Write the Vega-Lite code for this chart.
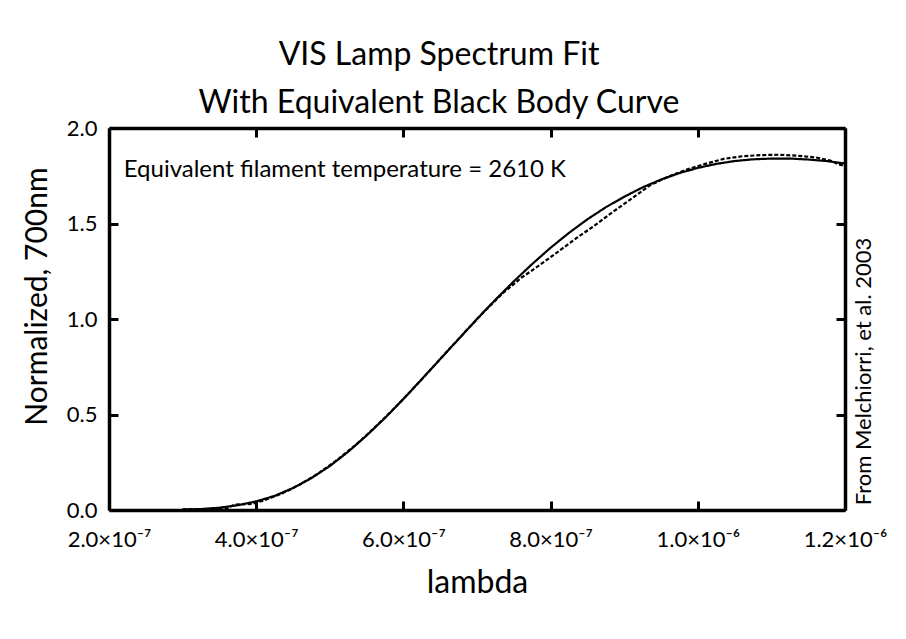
{
  "$schema": "https://vega.github.io/schema/vega-lite/v6.json",
  "width": 736,
  "height": 382,
  "autosize": "none",
  "padding": {"left": 109, "top": 128, "right": 61, "bottom": 129},
  "background": "white",
  "config": {
    "font": "Lato",
    "view": {"stroke": null},
    "axis": {
      "domainColor": "black",
      "domainWidth": 3.5,
      "tickColor": "black",
      "tickWidth": 3,
      "tickSize": -9,
      "grid": false,
      "labelColor": "black",
      "titleColor": "black",
      "labelFont": "Lato",
      "titleFont": "Lato",
      "titleFontWeight": "normal"
    }
  },
  "title": {
    "text": ["VIS Lamp Spectrum Fit", "With Equivalent Black Body Curve"],
    "fontSize": 32,
    "fontWeight": "normal",
    "font": "Lato",
    "color": "black",
    "anchor": "middle",
    "dx": -38,
    "offset": -3,
    "lineHeight": 48
  },
  "datasets": {
    "spectra": [
      {"lambda": 3.0e-7, "value": 0.002, "series": "Black body fit"},
      {"lambda": 3.25e-7, "value": 0.005, "series": "Black body fit"},
      {"lambda": 3.5e-7, "value": 0.012, "series": "Black body fit"},
      {"lambda": 3.75e-7, "value": 0.025, "series": "Black body fit"},
      {"lambda": 4.0e-7, "value": 0.045, "series": "Black body fit"},
      {"lambda": 4.25e-7, "value": 0.074, "series": "Black body fit"},
      {"lambda": 4.5e-7, "value": 0.115, "series": "Black body fit"},
      {"lambda": 4.75e-7, "value": 0.167, "series": "Black body fit"},
      {"lambda": 5.0e-7, "value": 0.230, "series": "Black body fit"},
      {"lambda": 5.25e-7, "value": 0.305, "series": "Black body fit"},
      {"lambda": 5.5e-7, "value": 0.390, "series": "Black body fit"},
      {"lambda": 5.75e-7, "value": 0.482, "series": "Black body fit"},
      {"lambda": 6.0e-7, "value": 0.581, "series": "Black body fit"},
      {"lambda": 6.25e-7, "value": 0.685, "series": "Black body fit"},
      {"lambda": 6.5e-7, "value": 0.790, "series": "Black body fit"},
      {"lambda": 6.75e-7, "value": 0.895, "series": "Black body fit"},
      {"lambda": 7.0e-7, "value": 1.000, "series": "Black body fit"},
      {"lambda": 7.25e-7, "value": 1.101, "series": "Black body fit"},
      {"lambda": 7.5e-7, "value": 1.197, "series": "Black body fit"},
      {"lambda": 7.75e-7, "value": 1.288, "series": "Black body fit"},
      {"lambda": 8.0e-7, "value": 1.373, "series": "Black body fit"},
      {"lambda": 8.25e-7, "value": 1.451, "series": "Black body fit"},
      {"lambda": 8.5e-7, "value": 1.522, "series": "Black body fit"},
      {"lambda": 8.75e-7, "value": 1.585, "series": "Black body fit"},
      {"lambda": 9.0e-7, "value": 1.640, "series": "Black body fit"},
      {"lambda": 9.25e-7, "value": 1.689, "series": "Black body fit"},
      {"lambda": 9.5e-7, "value": 1.730, "series": "Black body fit"},
      {"lambda": 9.75e-7, "value": 1.764, "series": "Black body fit"},
      {"lambda": 1.0e-6, "value": 1.791, "series": "Black body fit"},
      {"lambda": 1.025e-6, "value": 1.812, "series": "Black body fit"},
      {"lambda": 1.05e-6, "value": 1.827, "series": "Black body fit"},
      {"lambda": 1.075e-6, "value": 1.836, "series": "Black body fit"},
      {"lambda": 1.1e-6, "value": 1.840, "series": "Black body fit"},
      {"lambda": 1.125e-6, "value": 1.840, "series": "Black body fit"},
      {"lambda": 1.15e-6, "value": 1.835, "series": "Black body fit"},
      {"lambda": 1.175e-6, "value": 1.827, "series": "Black body fit"},
      {"lambda": 1.2e-6, "value": 1.814, "series": "Black body fit"},
      {"lambda": 3.0e-7, "value": 0.004, "series": "Measured"},
      {"lambda": 3.3e-7, "value": 0.005, "series": "Measured"},
      {"lambda": 3.6e-7, "value": 0.008, "series": "Measured"},
      {"lambda": 3.7e-7, "value": 0.028, "series": "Measured"},
      {"lambda": 3.95e-7, "value": 0.032, "series": "Measured"},
      {"lambda": 4.1e-7, "value": 0.050, "series": "Measured"},
      {"lambda": 4.35e-7, "value": 0.086, "series": "Measured"},
      {"lambda": 4.6e-7, "value": 0.134, "series": "Measured"},
      {"lambda": 4.85e-7, "value": 0.193, "series": "Measured"},
      {"lambda": 5.1e-7, "value": 0.262, "series": "Measured"},
      {"lambda": 5.35e-7, "value": 0.340, "series": "Measured"},
      {"lambda": 5.6e-7, "value": 0.428, "series": "Measured"},
      {"lambda": 5.85e-7, "value": 0.522, "series": "Measured"},
      {"lambda": 6.1e-7, "value": 0.622, "series": "Measured"},
      {"lambda": 6.35e-7, "value": 0.727, "series": "Measured"},
      {"lambda": 6.6e-7, "value": 0.833, "series": "Measured"},
      {"lambda": 6.85e-7, "value": 0.937, "series": "Measured"},
      {"lambda": 7.1e-7, "value": 1.040, "series": "Measured"},
      {"lambda": 7.35e-7, "value": 1.135, "series": "Measured"},
      {"lambda": 7.6e-7, "value": 1.215, "series": "Measured"},
      {"lambda": 7.85e-7, "value": 1.282, "series": "Measured"},
      {"lambda": 8.1e-7, "value": 1.352, "series": "Measured"},
      {"lambda": 8.35e-7, "value": 1.423, "series": "Measured"},
      {"lambda": 8.6e-7, "value": 1.490, "series": "Measured"},
      {"lambda": 8.85e-7, "value": 1.562, "series": "Measured"},
      {"lambda": 9.1e-7, "value": 1.630, "series": "Measured"},
      {"lambda": 9.35e-7, "value": 1.700, "series": "Measured"},
      {"lambda": 9.6e-7, "value": 1.746, "series": "Measured"},
      {"lambda": 9.85e-7, "value": 1.782, "series": "Measured"},
      {"lambda": 1.01e-6, "value": 1.812, "series": "Measured"},
      {"lambda": 1.035e-6, "value": 1.838, "series": "Measured"},
      {"lambda": 1.06e-6, "value": 1.852, "series": "Measured"},
      {"lambda": 1.085e-6, "value": 1.858, "series": "Measured"},
      {"lambda": 1.11e-6, "value": 1.860, "series": "Measured"},
      {"lambda": 1.135e-6, "value": 1.855, "series": "Measured"},
      {"lambda": 1.16e-6, "value": 1.846, "series": "Measured"},
      {"lambda": 1.18e-6, "value": 1.830, "series": "Measured"},
      {"lambda": 1.19e-6, "value": 1.812, "series": "Measured"},
      {"lambda": 1.2e-6, "value": 1.800, "series": "Measured"}
    ],
    "note": [{"label": "Equivalent filament temperature = 2610 K"}]
  },
  "resolve": {"axis": {"x": "independent", "y": "independent"}},
  "layer": [
    {
      "data": {"name": "spectra"},
      "mark": {"type": "line", "color": "black", "strokeWidth": 2.2, "clip": true},
      "encoding": {
        "x": {
          "field": "lambda",
          "type": "quantitative",
          "scale": {"domain": [2e-7, 1.2e-6], "nice": false, "zero": false},
          "axis": {
            "orient": "bottom",
            "values": [2e-7, 4e-7, 6e-7, 8e-7, 1e-6, 1.2e-6],
            "labelExpr": "datum.value < 9.9e-7 ? format(datum.value*1e7, '.1f') + '×10⁻⁷' : format(datum.value*1e6, '.1f') + '×10⁻⁶'",
            "labelFontSize": 22,
            "labelPadding": 28,
            "labelOverlap": false,
            "labelFlush": false,
            "labelBound": false,
            "title": "lambda",
            "titleFontSize": 32,
            "titlePadding": 17
          }
        },
        "y": {
          "field": "value",
          "type": "quantitative",
          "scale": {"domain": [0, 2], "nice": false},
          "axis": {
            "orient": "left",
            "values": [0, 0.5, 1, 1.5, 2],
            "format": ".1f",
            "labelFontSize": 22,
            "labelPadding": 21,
            "labelOverlap": false,
            "labelFlush": false,
            "labelBound": false,
            "title": "Normalized, 700nm",
            "titleFontSize": 30,
            "titleX": -72,
            "titleY": 168,
            "titleAlign": "center",
            "titleBaseline": "middle"
          }
        },
        "strokeDash": {
          "field": "series",
          "type": "nominal",
          "scale": {"domain": ["Black body fit", "Measured"], "range": [[1, 0], [4, 2]]},
          "legend": null
        },
        "detail": {"field": "series", "type": "nominal"}
      }
    },
    {
      "data": {"name": "note"},
      "mark": {"type": "text", "align": "left", "baseline": "middle", "fontSize": 24, "font": "Lato", "color": "black"},
      "encoding": {
        "text": {"field": "label"},
        "x": {
          "datum": 2.2e-7,
          "type": "quantitative",
          "axis": {
            "orient": "top",
            "values": [2e-7, 4e-7, 6e-7, 8e-7, 1e-6, 1.2e-6],
            "labels": false,
            "title": null
          }
        },
        "y": {
          "datum": 1.78,
          "type": "quantitative",
          "axis": {
            "orient": "right",
            "values": [0, 0.5, 1, 1.5, 2],
            "labels": false,
            "title": "From Melchiorri, et al. 2003",
            "titleFontSize": 22,
            "titleAngle": 270,
            "titleX": 18,
            "titleY": 243,
            "titleAlign": "center",
            "titleBaseline": "middle"
          }
        }
      }
    }
  ]
}
